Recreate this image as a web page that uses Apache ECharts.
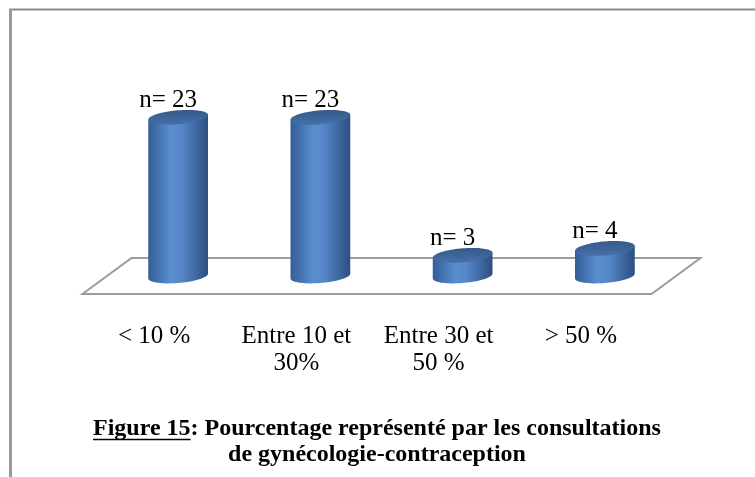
<!DOCTYPE html>
<html>
<head>
<meta charset="utf-8">
<script src="https://cdn.jsdelivr.net/npm/echarts@6/dist/echarts.min.js"></script>
<style>
  html, body { margin: 0; padding: 0; background: #fff; }
  #chart { width: 755px; height: 477px; }
</style>
</head>
<body>
<div id="chart"></div>
<script>
// données
const categories = ['< 10 %', 'Entre 10 et\n30%', 'Entre 30 et\n50 %', '> 50 %']
const effectifs = [23, 23, 3, 4]
const titleLabel = 'Figure 15'
const titleLine1 = ': Pourcentage représenté par les consultations'
const titleLine2 = 'de gynécologie-contraception'

const serif = '"Liberation Serif", "Times New Roman", serif'
const chart = echarts.init(document.getElementById('chart'))

function measure(text, font) {
  const ctx = document.createElement('canvas').getContext('2d')
  ctx.font = font
  return ctx.measureText(text).width
}

// plancher en perspective sous les cylindres
function renderFloor(params, api) {
  const first = api.coord([0, 0])
  const last = api.coord([categories.length - 1, 0])
  const bw = api.size([1, 0])[0]
  const x0 = first[0] - bw / 2
  const x1 = last[0] + bw / 2
  const y = first[1]
  const dx = 24.5, dy = 18
  return {
    type: 'polygon',
    shape: { points: [[x0 + dx, y - dy], [x1 + dx, y - dy], [x1 - dx, y + dy], [x0 - dx, y + dy]] },
    style: { fill: '#fff', stroke: '#9c9c9c', lineWidth: 2 }
  }
}

// point d'une ellipse inclinée (vue oblique)
const tilt = 0.08
function ellipsePoint(cx, cy, rx, ry, t) {
  return [cx + rx * Math.cos(t), cy + ry * Math.sin(t) - tilt * rx * Math.cos(t)]
}

// cylindre 3D : corps + disque du haut + étiquette
function renderCylinder(params, api) {
  const base = api.coord([api.value(0), 0])
  const top = api.coord([api.value(0), api.value(1)])
  const cx = base[0]
  const rx = api.size([1, 0])[0] * 0.21
  const ry = 7
  const steps = 40

  const body = [ellipsePoint(cx, top[1], rx, ry, Math.PI)]
  for (let i = 0; i <= steps; i++) {
    body.push(ellipsePoint(cx, base[1], rx, ry, Math.PI - Math.PI * i / steps))
  }
  body.push(ellipsePoint(cx, top[1], rx, ry, 0))

  const capPts = []
  for (let i = 0; i < steps * 2; i++) {
    capPts.push(ellipsePoint(cx, top[1], rx, ry, Math.PI * i / steps))
  }

  const side = new echarts.graphic.LinearGradient(0, 0, 1, 0, [
    { offset: 0, color: '#335e97' },
    { offset: 0.38, color: '#5a8dd0' },
    { offset: 0.55, color: '#5688c9' },
    { offset: 1, color: '#2b4f80' }
  ])
  const cap = new echarts.graphic.LinearGradient(0, 0, 0, 1, [
    { offset: 0, color: '#36598a' },
    { offset: 1, color: '#4570a8' }
  ])
  return {
    type: 'group',
    children: [
      { type: 'polygon', shape: { points: body }, style: { fill: side } },
      { type: 'polygon', shape: { points: capPts }, style: { fill: cap } },
      {
        type: 'text',
        style: {
          text: 'n= ' + api.value(1),
          x: cx - 10,
          y: top[1] - ry + 3,
          align: 'center',
          verticalAlign: 'bottom',
          fontSize: 25,
          fontFamily: serif,
          fill: '#000'
        }
      }
    ]
  }
}

const titleFont = `bold 24px ${serif}`
const titleCenter = 377
const fullWidth = measure(titleLabel + titleLine1, titleFont)
const labelWidth = measure(titleLabel, titleFont)
const titleLeft = titleCenter - fullWidth / 2

chart.setOption({
  backgroundColor: '#fff',
  animation: false,
  grid: { left: 107, right: 79, top: 69, bottom: 201, outerBoundsMode: 'none' },
  xAxis: {
    type: 'category',
    data: categories,
    axisLine: { show: false },
    axisTick: { show: false },
    axisLabel: {
      interval: 0,
      margin: 47,
      fontSize: 25,
      lineHeight: 27,
      fontFamily: serif,
      color: '#000',
      padding: [0, 48, 0, 0]
    }
  },
  yAxis: { type: 'value', min: 0, max: 30, show: false },
  series: [
    {
      type: 'custom',
      z: 1,
      clip: false,
      renderItem: renderFloor,
      data: [[0, 0]]
    },
    {
      type: 'custom',
      z: 2,
      clip: false,
      renderItem: renderCylinder,
      encode: { x: 0, y: 1 },
      data: effectifs.map((v, i) => [i, v])
    }
  ],
  graphic: [
    { type: 'line', shape: { x1: 9, y1: 9.5, x2: 755, y2: 9.5 }, style: { stroke: '#8c8c8c', lineWidth: 2 } },
    { type: 'line', shape: { x1: 10.5, y1: 9, x2: 10.5, y2: 477 }, style: { stroke: '#9a9a9a', lineWidth: 3 } },
    {
      type: 'text',
      style: { text: titleLabel + titleLine1, x: titleLeft, y: 429, align: 'left', verticalAlign: 'middle', font: titleFont, fill: '#000' }
    },
    {
      type: 'line',
      shape: { x1: titleLeft, y1: 439.5, x2: titleLeft + labelWidth, y2: 439.5 },
      style: { stroke: '#000', lineWidth: 1.6 }
    },
    {
      type: 'text',
      style: { text: titleLine2, x: titleCenter, y: 455, align: 'center', verticalAlign: 'middle', font: titleFont, fill: '#000' }
    }
  ]
})
</script>
</body>
</html>
